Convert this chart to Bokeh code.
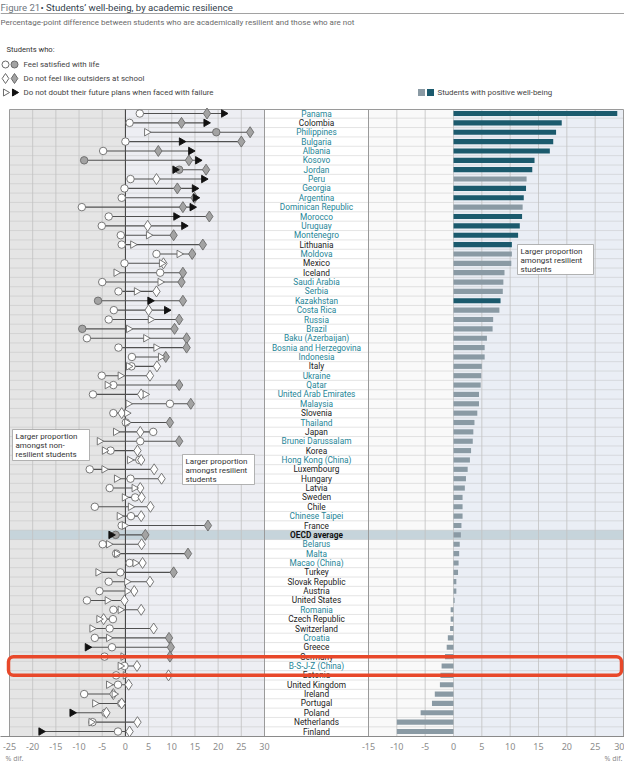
import math
from bokeh.plotting import figure
from bokeh.models import Range1d, FixedTicker, LinearAxis, BoxAnnotation, ColumnDataSource
from bokeh.core.properties import value
from bokeh.embed import file_html
from bokeh.resources import INLINE

# ---------------- data ----------------
countries = ["Panama", "Colombia", "Philippines", "Bulgaria", "Albania", "Kosovo", "Jordan", "Peru",
             "Georgia", "Argentina", "Dominican Republic", "Morocco", "Uruguay", "Montenegro",
             "Lithuania", "Moldova", "Mexico", "Iceland", "Saudi Arabia", "Serbia", "Kazakhstan",
             "Costa Rica", "Russia", "Brazil", "Baku (Azerbaijan)", "Bosnia and Herzegovina",
             "Indonesia", "Italy", "Ukraine", "Qatar", "United Arab Emirates", "Malaysia", "Slovenia",
             "Thailand", "Japan", "Brunei Darussalam", "Korea", "Hong Kong (China)", "Luxembourg",
             "Hungary", "Latvia", "Sweden", "Chile", "Chinese Taipei", "France", "OECD average",
             "Belarus", "Malta", "Macao (China)", "Turkey", "Slovak Republic", "Austria",
             "United States", "Romania", "Czech Republic", "Switzerland", "Croatia", "Greece",
             "Germany", "B-S-J-Z (China)", "Estonia", "United Kingdom", "Ireland", "Portugal",
             "Poland", "Netherlands", "Finland"]

# 1 = partner economy (teal label), 0 = OECD country (dark label)
partner = [1, 0, 1, 1, 1, 1, 1, 1, 1, 1, 1, 1, 1, 1, 0, 1, 0, 0, 1, 1, 1, 1, 1, 1, 1, 1, 1, 0, 1, 1,
           1, 1, 0, 1, 0, 1, 0, 1, 0, 0, 0, 0, 0, 1, 0, 0, 1, 1, 1, 0, 0, 0, 0, 1, 0, 0, 1, 0, 0, 1,
           0, 0, 0, 0, 0, 0, 0]

# Feel satisfied with life (circle)
satisfied = [3.1, 0.9, 19.6, 0.0, -4.8, -8.9, 11.6, 1.1, -0.2, -0.8, -9.4, -3.6, -5.1, -1.0, -0.8,
             6.7, -0.2, 7.5, -5.0, -1.5, -5.9, -2.5, -3.6, -9.3, -8.3, -1.5, 1.4, 1.3, -5.1, -2.6,
             -7.0, 9.6, -2.6, 0.1, 6.0, 3.2, -3.2, 3.0, -7.7, 1.1, -3.4, 2.1, -6.6, 1.2, -0.8, -2.1,
             -4.9, -2.0, 0.9, -1.1, -3.6, -5.6, -8.3, -2.6, -2.7, -3.4, -6.6, -2.9, -4.5, -0.2,
             -2.0, -1.6, -8.9, -0.9, -4.3, -7.1, -1.6]
satisfied_sig = [0, 0, 1, 0, 0, 1, 1, 0, 0, 0, 0, 0, 0, 0, 0, 0, 0, 0, 0, 0, 1, 0, 0, 1, 0, 0, 0, 0,
                 0, 0, 0, 0, 0, 0, 0, 0, 0, 0, 0, 0, 0, 0, 0, 0, 0, 1, 0, 0, 0, 0, 0, 0, 0, 0, 0, 0,
                 0, 0, 0, 0, 0, 0, 0, 0, 0, 0, 0]

# Do not feel like outsiders at school (diamond)
outsiders = [17.6, 12.1, 26.9, 25.0, 7.1, 13.7, 17.4, 6.7, 11.2, 14.9, 12.4, 18.1, 4.8, 10.4, 16.7,
             14.4, 8.2, 12.4, 12.1, 6.7, 12.4, 5.0, 11.6, 10.6, 13.2, 13.2, 8.7, 6.8, 5.3, 11.6,
             3.4, 14.1, -0.8, 9.6, 3.2, 11.6, 2.6, 3.4, 6.2, 7.8, 3.2, 3.5, 5.4, 3.4, 17.8, 4.3,
             3.5, 13.5, 3.7, 10.4, 5.3, 1.9, -0.2, 3.4, -4.7, 6.1, 9.4, 9.8, 9.6, 2.5, 9.3, 0.7,
             -2.6, -0.8, -4.1, 2.6, 0.9]
outsiders_sig = [1, 1, 1, 1, 1, 1, 1, 0, 1, 1, 1, 1, 0, 1, 1, 1, 0, 1, 1, 0, 1, 0, 1, 1, 1, 1, 1, 0,
                 0, 1, 0, 1, 0, 1, 0, 1, 0, 0, 0, 0, 0, 0, 0, 0, 1, 1, 0, 1, 0, 1, 0, 0, 0, 0, 0, 0,
                 1, 1, 1, 0, 0, 0, 0, 0, 0, 0, 0]

# Do not doubt their future plans when faced with failure (triangle)
future = [21.2, 17.4, 4.6, 12.1, 14.1, 15.6, 10.7, 16.9, 14.9, 15.1, 14.4, 10.9, 12.6, 5.0, 1.6,
          11.6, 7.8, -2.0, 7.5, 2.4, 5.3, 8.9, 5.4, 0.7, 4.4, 6.6, 7.6, 0.7, -1.1, -3.9, 4.3, 0.6,
          0.3, 0.3, -2.1, -5.6, -4.5, 0.9, -4.6, -1.9, 1.9, -0.2, 1.1, -1.3, -0.2, -3.1, -3.6,
          -1.9, 2.1, -5.9, 0.3, 0.4, -3.9, -1.1, -5.7, -7.2, -3.6, -8.2, -0.5, -1.1, 0.0, -3.6,
          -2.4, -6.6, -11.5, -7.4, -18.2]
future_sig = [1, 1, 0, 1, 1, 1, 1, 1, 1, 1, 1, 1, 1, 0, 0, 0, 0, 0, 0, 0, 1, 1, 0, 0, 0, 0, 0, 0, 0,
              0, 0, 0, 0, 0, 0, 0, 0, 0, 0, 0, 0, 0, 0, 0, 0, 1, 0, 0, 0, 0, 0, 0, 0, 0, 0, 0, 0, 1,
              0, 0, 0, 0, 0, 0, 1, 0, 1]

# Students with positive well-being (bars)
wellbeing = [28.9, 19.1, 18.1, 17.6, 17.0, 14.3, 13.9, 12.9, 12.8, 12.4, 12.2, 12.1, 11.7, 11.4,
             10.3, 10.3, 10.2, 9.0, 8.8, 8.7, 8.3, 8.1, 7.0, 6.9, 5.9, 5.5, 5.5, 5.0, 4.9, 4.8, 4.5,
             4.5, 4.2, 3.7, 3.5, 3.4, 3.1, 2.9, 2.5, 2.2, 2.0, 1.6, 1.6, 1.6, 1.4, 1.3, 1.1, 1.0,
             0.9, 0.8, 0.5, 0.5, 0.2, -0.5, -0.5, -0.6, -1.0, -1.2, -1.5, -2.1, -2.3, -2.4, -3.3,
             -3.8, -5.8, -10.0, -10.0]
wellbeing_sig = [1, 1, 1, 1, 1, 1, 1, 0, 1, 1, 0, 1, 1, 1, 1, 0, 0, 0, 0, 0, 1, 0, 0, 0, 0, 0, 0, 0,
                 0, 0, 0, 0, 0, 0, 0, 0, 0, 0, 0, 0, 0, 0, 0, 0, 0, 0, 0, 0, 0, 0, 0, 0, 0, 0, 0, 0,
                 0, 0, 0, 0, 0, 0, 0, 0, 0, 0, 0]

left_ticks = [-25, -20, -15, -10, -5, 0, 5, 10, 15, 20, 25, 30]
right_ticks = [-15, -10, -5, 0, 5, 10, 15, 20, 25, 30]

# ---------------- layout (figure pixels) ----------------
W, H = 624, 765
FRAME_BOTTOM = 736          # px of the axis line
ROW0, ROWH = 113.0, 9.364   # first row centre and row spacing (px)
LP = (9.0, 264.0)           # left panel -25 .. 30
RP = (368.0, 623.0)         # right panel -15 .. 30


def make_range(v0, v1, p0, p1):
    s = (p1 - p0) / (v1 - v0)
    return Range1d(v0 - p0 / s, v1 + (W - p1) / s)


XL = make_range(left_ticks[0], left_ticks[-1], *LP)
XR = make_range(right_ticks[0], right_ticks[-1], *RP)
YR = Range1d(-(FRAME_BOTTOM - ROW0) / ROWH, ROW0 / ROWH)


def X(px):  # px -> left-range value
    return XL.start + px * (XL.end - XL.start) / W


def Y(py):  # px -> y value
    return YR.end - py * (YR.end - YR.start) / FRAME_BOTTOM


def right_to_left(v):
    return XL.start + (v - XR.start) * (XL.end - XL.start) / (XR.end - XR.start)


p = figure(width=W, height=H, x_range=XL, y_range=YR, x_axis_location=None, y_axis_location=None,
           output_backend="svg", toolbar_location=None, min_border_left=0, min_border_right=0,
           min_border_top=0, min_border_bottom=H - FRAME_BOTTOM)
p.extra_x_ranges = {"right": XR}
p.outline_line_color = None
p.grid.visible = False

n = len(countries)
ys = [-i for i in range(n)]
PT, PB = Y(109), YR.start     # panel top / bottom
XEND = X(RP[1])

# backgrounds
p.quad(left=[left_ticks[0]], right=[0], bottom=[PB], top=[PT], fill_color="#e5e5e5", line_color=None)
p.quad(left=[0], right=[left_ticks[-1]], bottom=[PB], top=[PT], fill_color="#edeef3", line_color=None)
p.quad(left=[right_ticks[0]], right=[0], bottom=[PB], top=[PT], fill_color="#f9f9f9", line_color=None,
       x_range_name="right")
p.quad(left=[0], right=[right_ticks[-1]], bottom=[PB], top=[PT], fill_color="#eaeef5", line_color=None,
       x_range_name="right")

# OECD average band
oi = countries.index("OECD average")
p.quad(left=[left_ticks[0]], right=[XEND], bottom=[-oi - 0.5], top=[-oi + 0.5], fill_color="#c6d4db",
       line_color=None)

# horizontal dotted row separators
seps = [-i - 0.5 for i in range(n - 1)]
p.segment(x0=left_ticks[0], x1=XEND, y0=seps, y1=seps, line_color="#b3b3b3", line_width=0.7,
          line_dash="1 1")

# vertical grid lines
lg = left_ticks[1:-1]
p.segment(x0=lg, x1=lg, y0=PB, y1=PT, line_color="#c2c2c2", line_width=0.8)
rg = right_ticks[1:-1]
p.segment(x0=rg, x1=rg, y0=PB, y1=PT, line_color="#c2c2c2", line_width=0.8, x_range_name="right")
p.segment(x0=[left_ticks[0], left_ticks[-1]], x1=[left_ticks[0], left_ticks[-1]], y0=PB, y1=PT,
          line_color="#9a9a9a", line_width=1)
p.segment(x0=[right_ticks[0], right_ticks[-1]], x1=[right_ticks[0], right_ticks[-1]], y0=PB, y1=PT,
          line_color="#9a9a9a", line_width=1, x_range_name="right")
p.segment(x0=[left_ticks[0]], x1=[XEND], y0=[PT], y1=[PT], line_color="#9a9a9a", line_width=1)
p.segment(x0=[0], x1=[0], y0=PB, y1=PT, line_color="#3a3a3a", line_width=1)

# bars
TEAL, GREY = "#1b5a6d", "#8a9aa4"
bars = ColumnDataSource(dict(y=ys, v=wellbeing, c=[TEAL if s else GREY for s in wellbeing_sig]))
p.hbar(y="y", left=0, right="v", height=0.55, fill_color="c", line_color=None, source=bars,
       x_range_name="right")

# connector lines
lo = [min(a, b, c) for a, b, c in zip(satisfied, outsiders, future)]
hi = [max(a, b, c) for a, b, c in zip(satisfied, outsiders, future)]
p.segment(x0=lo, x1=hi, y0=ys, y1=ys, line_color="#505050", line_width=1.1)

# markers
OUT = "#6a6a6a"
FILL = "#a3a3a3"
p.scatter(x=satisfied, y=ys, marker="circle", size=7.5,
          fill_color=[FILL if s else "white" for s in satisfied_sig], line_color=OUT, line_width=0.9)
p.scatter(x=outsiders, y=ys, marker="diamond", size=11,
          fill_color=[FILL if s else "white" for s in outsiders_sig], line_color=OUT, line_width=0.9)
p.scatter(x=future, y=ys, marker="triangle", size=7.5, angle=-math.pi / 2,
          fill_color=["#111111" if s else "white" for s in future_sig],
          line_color=["#111111" if s else OUT for s in future_sig], line_width=0.9)

# country labels
LX = (X(LP[1]) + right_to_left(right_ticks[0])) / 2
names_main = [c if c != "OECD average" else "" for c in countries]
lab = ColumnDataSource(dict(y=ys, t=names_main, c=["#1e8597" if q else "#222222" for q in partner]))
p.text(x=LX, y="y", text="t", text_color="c", source=lab, text_align="center", text_baseline="middle",
       text_font=value("Roboto"), text_font_size="8.3px")
p.text(x=[LX], y=[-oi], text=["OECD average"], text_align="center", text_baseline="middle",
       text_font=value("Roboto"), text_font_size="8.3px", text_font_style="bold", text_color="#111111")


# annotation boxes
def note(px0, py0, px1, py1, lines):
    p.quad(left=[X(px0)], right=[X(px1)], bottom=[Y(py1)], top=[Y(py0)], fill_color="white",
           line_color="#a0a0a0", line_width=0.8)
    p.text(x=[X(px0 + 3)] * len(lines), y=[Y(py0 + 6.5 + 9.2 * k) for k in range(len(lines))],
           text=lines, text_baseline="middle", text_font=value("Roboto"), text_font_size="8px",
           text_color="#333333")


note(12, 429, 89, 460, ["Larger proportion", "amongst non-", "resilient students"])
note(182, 454, 254, 484, ["Larger proportion", "amongst resilient", "students"])
note(517, 244, 593, 274, ["Larger proportion", "amongst resilient", "students"])

# header
p.text(x=[X(0)], y=[Y(7)], text=["Figure 21"], text_baseline="middle", text_font=value("Roboto"),
       text_font_size="9.6px", text_color="#6f7780")
p.text(x=[X(40)], y=[Y(7)], text=["\u2022 Students\u2019 well-being, by academic resilience"],
       text_baseline="middle", text_font=value("Roboto"), text_font_size="9.6px", text_color="#33414c")
p.segment(x0=[X(0)], x1=[X(W)], y0=[Y(13)], y1=[Y(13)], line_color="#8a8a8a", line_width=0.8)
p.text(x=[X(0)], y=[Y(21.5)], text=["Percentage-point difference between students who are academically "
                                   "resilient and those who are not"],
       text_baseline="middle", text_font=value("Roboto"), text_font_size="8px", text_color="#6a6a6a")
p.text(x=[X(6)], y=[Y(49)], text=["Students who:"], text_baseline="middle", text_font=value("Roboto"),
       text_font_size="7.6px", text_color="#333333")
leg_y = [Y(64), Y(78), Y(92)]
leg_txt = ["Feel satisfied with life", "Do not feel like outsiders at school",
           "Do not doubt their future plans when faced with failure"]
p.scatter(x=[X(5)], y=[leg_y[0]], marker="circle", size=7, fill_color="white", line_color=OUT)
p.scatter(x=[X(14)], y=[leg_y[0]], marker="circle", size=7, fill_color=FILL, line_color=OUT)
p.scatter(x=[X(5)], y=[leg_y[1]], marker="diamond", size=10, fill_color="white", line_color=OUT)
p.scatter(x=[X(14)], y=[leg_y[1]], marker="diamond", size=10, fill_color=FILL, line_color=OUT)
p.scatter(x=[X(5)], y=[leg_y[2]], marker="triangle", size=7, angle=-math.pi / 2, fill_color="white",
          line_color=OUT)
p.scatter(x=[X(14)], y=[leg_y[2]], marker="triangle", size=7, angle=-math.pi / 2, fill_color="#111111",
          line_color="#111111")
p.text(x=[X(23)] * 3, y=leg_y, text=leg_txt, text_baseline="middle", text_font=value("Roboto"),
       text_font_size="7.9px", text_color="#444444")
p.scatter(x=[X(421), X(430)], y=[leg_y[2]] * 2, marker="square", size=7, fill_color=[GREY, TEAL],
          line_color=None)
p.text(x=[X(437)], y=[leg_y[2]], text=["Students with positive well-being"], text_baseline="middle",
       text_font=value("Roboto"), text_font_size="7.9px", text_color="#444444")

# highlight box around B-S-J-Z (China)
bi = countries.index("B-S-J-Z (China)")
p.add_layout(BoxAnnotation(left=X(8), right=X(621), top=-bi + 0.98, bottom=-bi - 0.98, fill_alpha=0,
                           line_color="#e8482a", line_alpha=1.0, line_width=3.5, border_radius=5))

# axis carrying both panels' ticks
ticks = [float(t) for t in left_ticks] + [round(right_to_left(t), 6) for t in right_ticks]
labels = [str(t) for t in left_ticks] + [str(t) for t in right_ticks]
ax = LinearAxis(ticker=FixedTicker(ticks=ticks), major_label_overrides=dict(zip(ticks, labels)))
ax.axis_line_color = "#8a8a8a"
ax.axis_line_width = 1.2
ax.major_tick_line_color = None
ax.minor_tick_line_color = None
ax.major_tick_out = 0
ax.major_tick_in = 0
ax.minor_tick_out = 0
ax.major_label_standoff = 6
ax.major_label_text_font = "Noto Sans"
ax.major_label_text_font_size = "9px"
ax.major_label_text_color = "#8c8c8c"
p.add_layout(ax, "below")

# unit captions under both panels (second, label-only axis)
unit_ticks = [round(X(14), 6), round(X(613), 6)]
ax2 = LinearAxis(ticker=FixedTicker(ticks=unit_ticks),
                 major_label_overrides={unit_ticks[0]: "% dif.", unit_ticks[1]: "% dif."})
ax2.axis_line_color = None
ax2.major_tick_line_color = None
ax2.minor_tick_line_color = None
ax2.major_tick_out = 0
ax2.major_tick_in = 0
ax2.minor_tick_out = 0
ax2.major_label_standoff = 1
ax2.major_label_text_font = "Noto Sans"
ax2.major_label_text_font_size = "7px"
ax2.major_label_text_color = "#8c8c8c"
p.add_layout(ax2, "below")

open("out.html", "w").write(file_html(p, INLINE))
